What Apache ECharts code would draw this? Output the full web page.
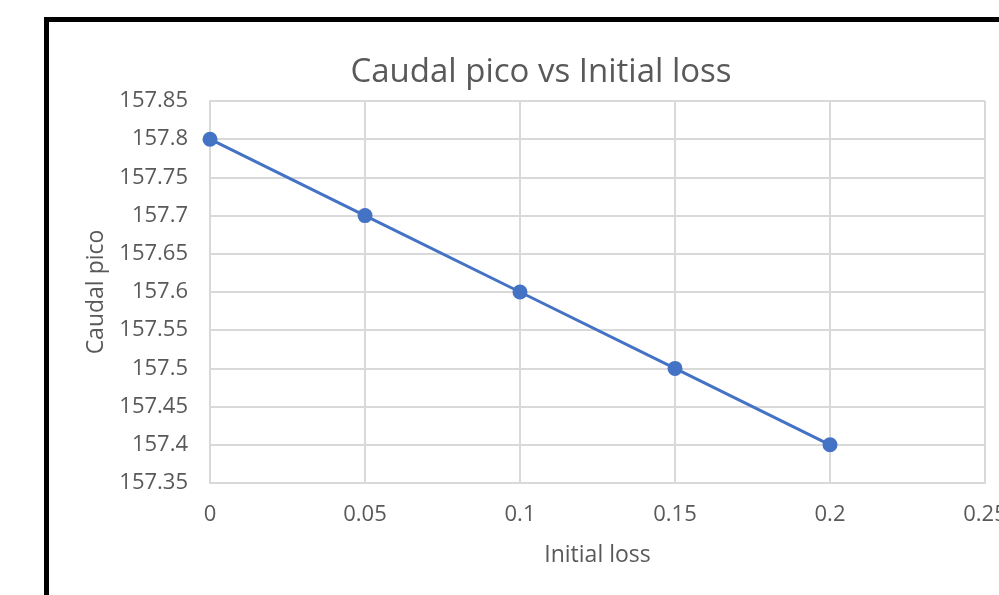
<!DOCTYPE html>
<html>
<head>
<meta charset="utf-8">
<style>
  html, body { margin: 0; padding: 0; background: #fff; }
  #chart { width: 999px; height: 595px; }
</style>
<script src="https://cdn.jsdelivr.net/npm/echarts@6/dist/echarts.min.js"></script>
</head>
<body>
<div id="chart"></div>
<script>
// Initial loss values and matching peak flow
const initialLoss = [0, 0.05, 0.1, 0.15, 0.2];
const caudalPico = [157.8, 157.7, 157.6, 157.5, 157.4];

// Axis ticks
const xTicks = [0, 0.05, 0.1, 0.15, 0.2, 0.25];
const yTicks = [157.35, 157.4, 157.45, 157.5, 157.55, 157.6, 157.65, 157.7, 157.75, 157.8, 157.85];

const font = '"Open Sans", "Liberation Sans", sans-serif';
const gridColor = '#d9d9d9';
const textColor = '#595959';

const fmt = v => String(parseFloat(Number(v).toFixed(2)));

const chart = echarts.init(document.getElementById('chart'), null, { renderer: 'canvas' });
chart.setOption({
  backgroundColor: '#ffffff',
  animation: false,
  title: {
    text: 'Caudal pico vs Initial loss',
    left: 536,
    top: 51,
    textAlign: 'center',
    textStyle: { fontFamily: font, fontSize: 33, fontWeight: 'normal', color: textColor }
  },
  grid: { left: 210, right: 14, top: 101, bottom: 112, outerBoundsMode: 'none' },
  xAxis: {
    type: 'value',
    min: xTicks[0],
    max: xTicks[xTicks.length - 1],
    interval: 0.05,
    name: 'Initial loss',
    nameLocation: 'middle',
    nameGap: 61,
    nameTextStyle: { fontFamily: font, fontSize: 23, color: textColor, verticalAlign: 'top' },
    axisLine: { show: true, lineStyle: { color: gridColor, width: 2 } },
    axisTick: { show: false },
    splitLine: { show: true, lineStyle: { color: gridColor, width: 2 } },
    axisLabel: { fontFamily: font, fontSize: 22, color: textColor, margin: 21, formatter: fmt }
  },
  yAxis: {
    type: 'value',
    min: yTicks[0],
    max: yTicks[yTicks.length - 1],
    interval: 0.05,
    name: 'Caudal pico',
    nameLocation: 'middle',
    nameGap: 102,
    nameTextStyle: { fontFamily: font, fontSize: 23, color: textColor },
    axisLine: { show: true, lineStyle: { color: gridColor, width: 2 } },
    axisTick: { show: false },
    splitLine: { show: true, lineStyle: { color: gridColor, width: 2 } },
    axisLabel: { fontFamily: font, fontSize: 22, color: textColor, margin: 22, formatter: fmt }
  },
  series: [{
    type: 'line',
    data: initialLoss.map((x, i) => [x, caudalPico[i]]),
    symbol: 'circle',
    symbolSize: 15,
    itemStyle: { color: '#4472c4' },
    lineStyle: { color: '#4472c4', width: 3 }
  }],
  graphic: [{
    type: 'rect',
    shape: { x: 46.5, y: 19.5, width: 1000, height: 700 },
    style: { fill: 'none', stroke: '#000', lineWidth: 5 },
    z: 100
  }]
});
</script>
</body>
</html>
